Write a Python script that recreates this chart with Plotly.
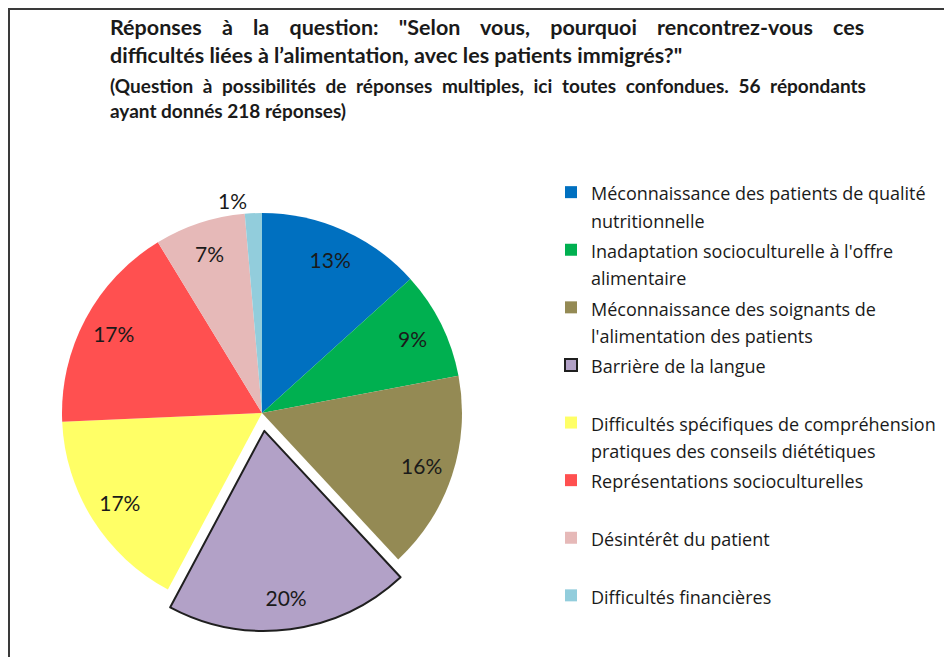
import plotly.graph_objects as go

# Réponses (218 au total, 56 répondants)
categories = [
    "Méconnaissance des patients de qualité<br>nutritionnelle",
    "Inadaptation socioculturelle à l'offre<br>alimentaire",
    "Méconnaissance des soignants de<br>l'alimentation des patients",
    "Barrière de la langue",
    "Difficultés spécifiques de compréhension<br>pratiques des conseils diététiques",
    "Représentations socioculturelles",
    "Désintérêt du patient",
    "Difficultés financières",
]
counts = [29, 19, 35, 43, 36, 37, 16, 3]
colors = ["#0070C0", "#00B050", "#948A54", "#B2A1C7",
          "#FFFF66", "#FF5050", "#E6B9B8", "#92CDDC"]

title_l1 = "Réponses à la question: \"Selon vous, pourquoi rencontrez-vous ces"
title_l2 = "difficultés liées à l’alimentation, avec les patients immigrés?\""
sub_l1 = "(Question à possibilités de réponses multiples, ici toutes confondues. 56 répondants"
sub_l2 = "ayant donnés 218 réponses)"

# legend entries: every entry takes two lines, like the original
legend_text = []
for c in categories:
    if "<br>" not in c:
        c = c + "<br>\u00a0"
    legend_text.append("<span style='font-size:18px'>" + c + "</span>")

pull = [0, 0, 0, 0.09, 0, 0, 0, 0]
line_w = [0, 0, 0, 2, 0, 0, 0, 0]
line_c = ["#1f1f1f"] * len(counts)
textpos = ["inside"] * 7 + ["outside"]
dom = dict(x=[36 / 952, 472 / 952], y=[34 / 657, 470 / 657])

fig = go.Figure()
fig.add_trace(go.Pie(
    labels=legend_text,
    values=counts,
    sort=False,
    direction="clockwise",
    rotation=0,
    pull=pull,
    marker=dict(colors=colors, line=dict(color=line_c, width=line_w)),
    textinfo="none",
    domain=dom,
    hoverinfo="label+percent",
))
# same slices, see-through, only to put the percentages nearer the rim
fig.add_trace(go.Pie(
    labels=legend_text,
    values=counts,
    sort=False,
    direction="clockwise",
    rotation=0,
    pull=pull,
    hole=0.68,
    marker=dict(colors=["rgba(0,0,0,0)"] * len(counts), line=dict(width=0)),
    texttemplate="%{percent:.0%}",
    textposition=textpos,
    insidetextorientation="horizontal",
    textfont=dict(family="Lato", size=21, color="#1a1a1a"),
    domain=dom,
    showlegend=False,
    hoverinfo="skip",
))

fig.update_layout(
    width=952, height=657,
    margin=dict(l=0, r=0, t=0, b=0, autoexpand=False),
    paper_bgcolor="white",
    font=dict(family="Lato", color="#1a1a1a"),
    showlegend=True,
    legend=dict(
        x=543 / 952, xanchor="left",
        y=1 - 164 / 657, yanchor="top",
        font=dict(family="Open Sans", size=21, color="#1a1a1a"),
        valign="top",
        bgcolor="rgba(0,0,0,0)",
    ),
    annotations=[
        dict(text="<b><span style='word-spacing:15px'>" + title_l1 + "</span><br>" + title_l2 + "</b>",
             x=100 / 952, y=1 - 4 / 657,
             xref="paper", yref="paper", xanchor="left", yanchor="top",
             align="left", showarrow=False,
             font=dict(family="Lato", size=21.5, color="#1a1a1a")),
        dict(text="<b><span style='word-spacing:5px'>" + sub_l1 + "</span><br>" + sub_l2 + "</b>",
             x=100 / 952, y=1 - 64 / 657,
             xref="paper", yref="paper", xanchor="left", yanchor="top",
             align="left", showarrow=False,
             font=dict(family="Lato", size=19, color="#1a1a1a")),
    ],
    shapes=[
        dict(type="rect", xref="paper", yref="paper",
             x0=1 / 952, x1=1.02, y0=-0.02, y1=1 - 1 / 657,
             line=dict(color="#3a3a3a", width=2)),
    ],
)

fig.write_html("out.html")
